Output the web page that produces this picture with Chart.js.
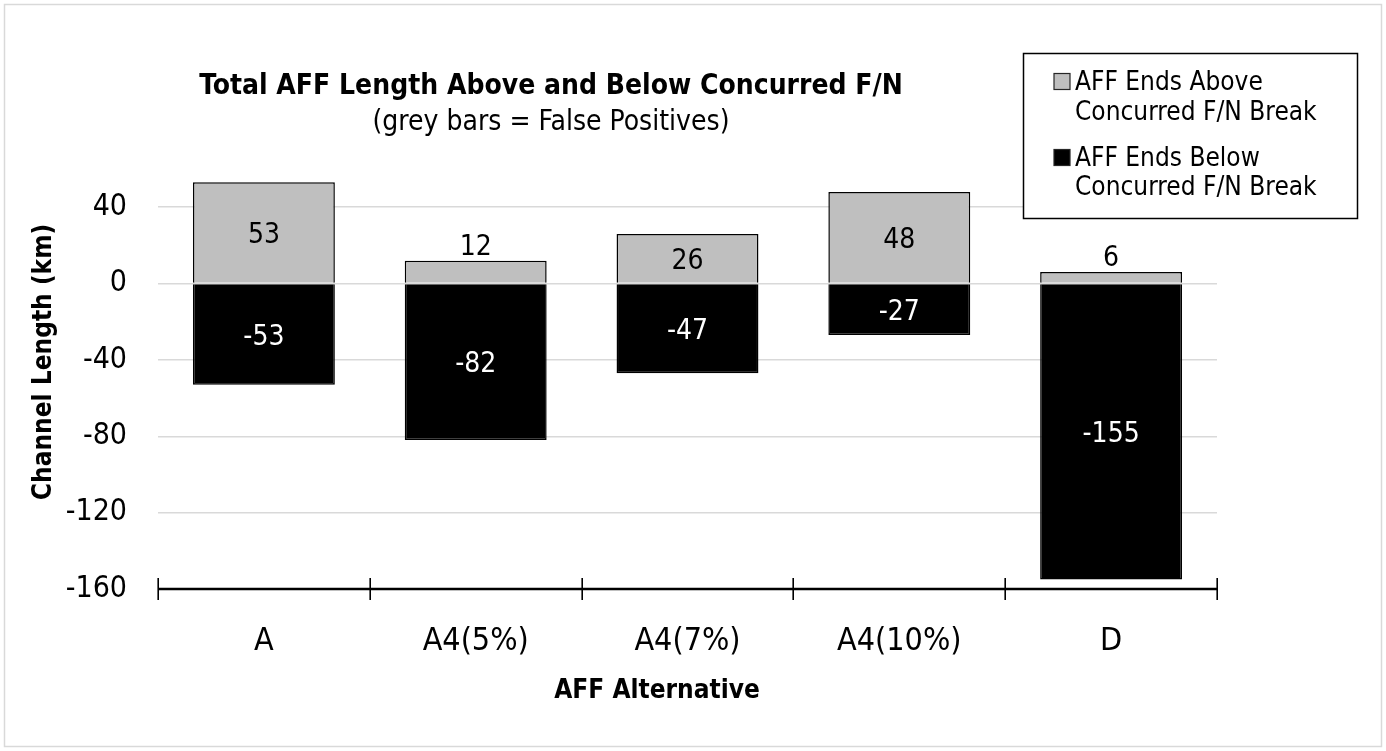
<!DOCTYPE html>
<html><head><meta charset="utf-8">
<script src="https://cdn.jsdelivr.net/npm/chart.js@4.4.1/dist/chart.umd.min.js"></script>
<style>html,body{margin:0;padding:0;background:#fff;}canvas{display:block;}</style>
</head><body>
<canvas id="c" width="1386" height="751"></canvas>
<script>
// ---- data ----
const categories = ['A', 'A4(5%)', 'A4(7%)', 'A4(10%)', 'D'];
const aboveValues = [53, 12, 26, 48, 6];
const belowValues = [-53, -82, -47, -27, -155];
const yTickValues = [-160, -120, -80, -40, 0, 40];
const seriesNames = [['AFF Ends Above', 'Concurred F/N Break'], ['AFF Ends Below', 'Concurred F/N Break']];
const chartTitle = 'Total AFF Length Above and Below Concurred F/N';
const chartSubtitle = '(grey bars = False Positives)';
const xAxisTitle = 'AFF Alternative';
const yAxisTitle = 'Channel Length (km)';
const yMin = -160, yMax = 60;

// ---- style ----
const FONT = '"DejaVu Sans Condensed", "DejaVu Sans", sans-serif';
const GREY = '#bfbfbf';
const seriesColors = [GREY, '#000000'];

const decorPlugin = {
  id: 'decor',
  beforeDraw(chart) {
    const ctx = chart.ctx;
    ctx.save();
    ctx.fillStyle = '#fff';
    ctx.fillRect(0, 0, chart.width, chart.height);
    ctx.strokeStyle = '#d9d9d9';
    ctx.lineWidth = 1.5;
    ctx.strokeRect(4.5, 4.5, chart.width - 9, chart.height - 9);
    ctx.restore();
  },
  afterDatasetsDraw(chart) {
    const ctx = chart.ctx;
    const xs = chart.scales.x;
    const area = chart.chartArea;
    ctx.save();
    // x axis line + cross ticks at category boundaries
    ctx.strokeStyle = '#000';
    ctx.lineWidth = 2.5;
    ctx.beginPath();
    ctx.moveTo(area.left, area.bottom);
    ctx.lineTo(area.right, area.bottom);
    ctx.stroke();
    ctx.lineWidth = 1.6;
    for (let i = 0; i <= categories.length; i++) {
      const x = Math.round(xs.getPixelForValue(i - 0.5)) + 0.2;
      ctx.beginPath();
      ctx.moveTo(x, area.bottom - 11);
      ctx.lineTo(x, area.bottom + 11);
      ctx.stroke();
    }
    // data labels
    const size = 28;
    ctx.font = size + 'px ' + FONT;
    ctx.textAlign = 'center';
    ctx.textBaseline = 'alphabetic';
    const digitH = 0.729 * size;
    chart.data.datasets.forEach((ds, di) => {
      const meta = chart.getDatasetMeta(di);
      meta.data.forEach((bar, i) => {
        const v = ds.data[i];
        const h = Math.abs(bar.base - bar.y);
        let y;
        if (h >= size * 1.1) {
          y = (bar.y + bar.base) / 2 + digitH / 2;
          ctx.fillStyle = di === 0 ? '#000' : '#fff';
        } else {
          y = (v >= 0 ? bar.y - 6 : bar.y + 6 + digitH);
          ctx.fillStyle = '#000';
        }
        ctx.fillText(String(v), bar.x, y);
      });
    });
    ctx.restore();
  },
  afterDraw(chart) {
    const ctx = chart.ctx;
    ctx.save();
    ctx.fillStyle = '#000';
    ctx.textAlign = 'center';
    ctx.textBaseline = 'alphabetic';
    // titles
    ctx.font = 'bold 28px ' + FONT;
    ctx.fillText(chartTitle, 551, 94);
    ctx.font = '28px ' + FONT;
    ctx.fillText(chartSubtitle, 551, 130);
    // x axis title
    ctx.font = 'bold 26px ' + FONT;
    ctx.textBaseline = 'middle';
    ctx.fillText(xAxisTitle, 657, 691);
    // y axis title
    ctx.save();
    ctx.translate(44, 362);
    ctx.rotate(-Math.PI / 2);
    ctx.fillText(yAxisTitle, 0, 0);
    ctx.restore();
    // legend
    const lx = 1023, ly = 53, lw = 334, lh = 165;
    ctx.fillStyle = '#fff';
    ctx.fillRect(lx, ly, lw, lh);
    ctx.strokeStyle = '#000';
    ctx.lineWidth = 1.5;
    ctx.strokeRect(lx + 0.5, ly + 0.5, lw, lh);
    ctx.font = '26px ' + FONT;
    ctx.textAlign = 'left';
    ctx.textBaseline = 'alphabetic';
    const baselines = [[90, 120], [166, 195]];
    seriesNames.forEach((lines, k) => {
      const b = baselines[k];
      const ms = 16;
      const my = b[0] - 8.5 - ms / 2;
      ctx.fillStyle = seriesColors[k];
      ctx.fillRect(1054, my, ms, ms);
      ctx.strokeStyle = '#262626';
      ctx.lineWidth = 1.2;
      ctx.strokeRect(1054, my, ms, ms);
      ctx.fillStyle = '#000';
      ctx.fillText(lines[0], 1075, b[0]);
      ctx.fillText(lines[1], 1075, b[1]);
    });
    ctx.restore();
  }
};

new Chart(document.getElementById('c'), {
  type: 'bar',
  data: {
    labels: categories,
    datasets: [
      { label: seriesNames[0].join(' '), data: aboveValues, backgroundColor: GREY, borderColor: '#000', borderWidth: 1.5,
        categoryPercentage: 1, barPercentage: 0.67 },
      { label: seriesNames[1].join(' '), data: belowValues, backgroundColor: '#000', borderColor: '#000', borderWidth: 1.5,
        categoryPercentage: 1, barPercentage: 0.67 }
    ]
  },
  options: {
    responsive: false,
    animation: false,
    devicePixelRatio: 1,
    layout: { padding: { left: 0, top: 169, right: 169, bottom: 0 } },
    plugins: { legend: { display: false }, title: { display: false }, tooltip: { enabled: false } },
    scales: {
      x: {
        stacked: true,
        offset: true,
        grid: { display: false },
        border: { display: false },
        ticks: { font: { family: FONT, size: 32 }, color: '#000', padding: 25, maxRotation: 0 },
        afterFit(s) { s.height = 162; }
      },
      y: {
        stacked: true,
        min: yMin,
        max: yMax,
        afterBuildTicks(s) { s.ticks = yTickValues.map(v => ({ value: v })); },
        grid: { color: '#d9d9d9', lineWidth: 1.5, drawTicks: false },
        border: { display: false },
        ticks: { font: { family: FONT, size: 30 }, color: '#000', padding: 31 },
        afterFit(s) { s.width = 158; }
      }
    }
  },
  plugins: [decorPlugin]
});
</script>
</body></html>
